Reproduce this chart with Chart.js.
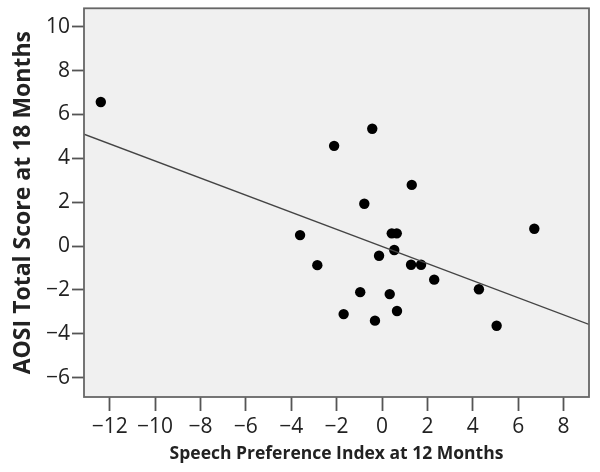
<!DOCTYPE html>
<html>
<head>
<meta charset="utf-8">
<script src="https://cdn.jsdelivr.net/npm/chart.js@4"></script>
<style>
  html, body { margin: 0; padding: 0; background: #fff; }
  #wrap { width: 600px; height: 472px; }
</style>
</head>
<body>
<div id="wrap"><canvas id="chart"></canvas></div>
<script>
// ── Data ──
const SPEECH_PREF = [-12.39, -0.43, -2.11, 1.31, -0.78, 6.71, 0.43, 0.65, 0.54, -0.13,
                     -3.61, -2.85, 1.28, 1.72, 2.30, 4.27, -0.96, 0.34, -1.69, 0.66, -0.31, 5.05];
const AOSI_SCORE  = [6.57, 5.35, 4.57, 2.79, 1.93, 0.79, 0.58, 0.58, -0.18, -0.44,
                     0.50, -0.87, -0.85, -0.85, -1.53, -1.97, -2.10, -2.19, -3.10, -2.96, -3.40, -3.63];
const FIT_X = [-13.13, 9.12];
const FIT_Y = [5.10, -3.57];

const X_TICKS = [-12, -10, -8, -6, -4, -2, 0, 2, 4, 6, 8];
const Y_TICKS = [-6, -4, -2, 0, 2, 4, 6, 8, 10];

const FONT = "'Open Sans', 'DejaVu Sans', sans-serif";
const minus = v => String(v).replace('-', '\u2212');

// ── Plot-area frame + fill ──
const framePlugin = {
  id: 'frame',
  beforeDatasetsDraw(chart) {
    const { ctx, chartArea: a } = chart;
    ctx.save();
    ctx.fillStyle = '#f0f0f0';
    ctx.fillRect(a.left, a.top, a.right - a.left, a.bottom - a.top);
    ctx.restore();
  },
  afterDatasetsDraw(chart) {
    const { ctx, chartArea: a } = chart;
    ctx.save();
    ctx.strokeStyle = '#666';
    ctx.lineWidth = 1.8;
    ctx.strokeRect(a.left, a.top, a.right - a.left, a.bottom - a.top);
    ctx.restore();
  }
};

new Chart(document.getElementById('chart'), {
  type: 'scatter',
  data: {
    datasets: [
      {
        label: 'Fit',
        type: 'line',
        data: FIT_X.map((x, i) => ({ x, y: FIT_Y[i] })),
        borderColor: '#444',
        borderWidth: 1.4,
        pointRadius: 0,
        fill: false
      },
      {
        label: 'Subjects',
        data: SPEECH_PREF.map((x, i) => ({ x, y: AOSI_SCORE[i] })),
        backgroundColor: '#000',
        borderColor: '#000',
        pointRadius: 5.2,
        borderWidth: 0
      }
    ]
  },
  options: {
    responsive: true,
    maintainAspectRatio: false,
    animation: false,
    layout: { padding: { top: 8, right: 11, left: 0, bottom: 0 } },
    plugins: { legend: { display: false }, tooltip: { enabled: false } },
    scales: {
      x: {
        type: 'linear',
        min: -13.13, max: 9.12,
        afterBuildTicks: s => { s.ticks = X_TICKS.map(v => ({ value: v })); },
        afterFit: s => { s.height = 75; },
        grid: { drawOnChartArea: false, tickLength: 14, color: '#555', tickWidth: 1.8 },
        border: { display: false },
        ticks: { color: '#222', padding: 3, maxRotation: 0, font: { family: FONT, size: 21 }, callback: minus },
        title: {
          display: true, text: 'Speech Preference Index at 12 Months',
          color: '#222', font: { family: FONT, size: 17.5, weight: 'bold' }, padding: 7
        }
      },
      y: {
        type: 'linear',
        min: -6.88, max: 10.84,
        afterBuildTicks: s => { s.ticks = Y_TICKS.map(v => ({ value: v })); },
        afterFit: s => { s.width = 84; },
        grid: { drawOnChartArea: false, tickLength: 12, color: '#555', tickWidth: 1.8 },
        border: { display: false },
        ticks: { color: '#222', padding: 2, font: { family: FONT, size: 21, lineHeight: 0.6 }, callback: minus },
        title: {
          display: true, text: 'AOSI Total Score at 18 Months',
          color: '#222', font: { family: FONT, size: 23, weight: 'bold' }, padding: 10
        }
      }
    }
  },
  plugins: [framePlugin]
});
</script>
</body>
</html>
